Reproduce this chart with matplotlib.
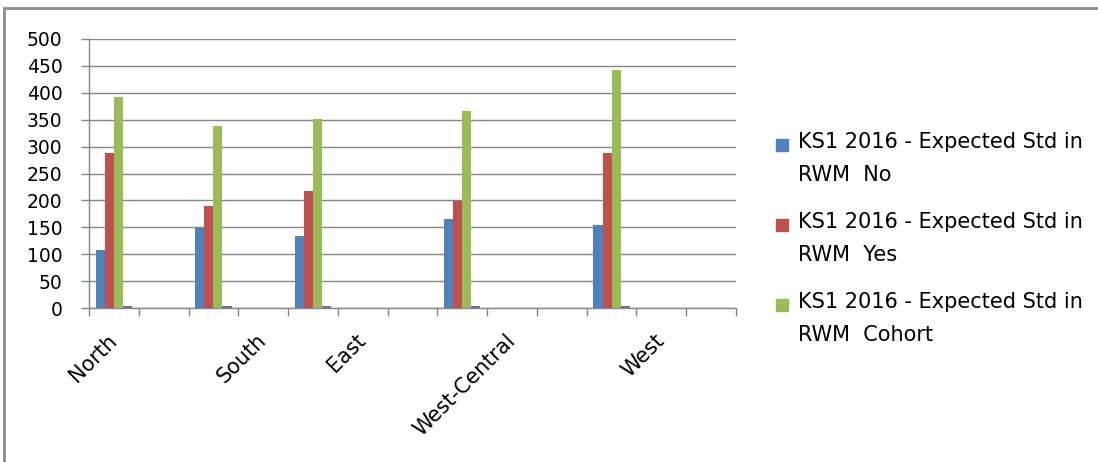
import numpy as np
import matplotlib.pyplot as plt
from matplotlib.patches import Rectangle

# category axis as laid out in the sheet (blank rows stay as empty slots)
axis_labels = ["North", "", "", "South", "", "East", "", "", "West-Central", "", "", "West", ""]

# KS1 2016 - Expected Std in RWM, one value per slot (None = empty row)
rwm_no     = [108, None, 148, None, 133, None, None, 166, None, None, 155, None, None]
rwm_yes    = [289, None, 190, None, 217, None, None, 199, None, None, 288, None, None]
rwm_cohort = [393, None, 338, None, 351, None, None, 367, None, None, 443, None, None]
rwm_other  = [3, None, 3, None, 3, None, None, 3, None, None, 3, None, None]

legend_labels = ["KS1 2016 - Expected Std in\nRWM  No",
                 "KS1 2016 - Expected Std in\nRWM  Yes",
                 "KS1 2016 - Expected Std in\nRWM  Cohort"]
colors = ["#4F81BD", "#C0504D", "#9BBB59", "#8064A2"]

plt.rcParams['font.family'] = ['DejaVu Sans']

W, H = 1098, 462
fig = plt.figure(figsize=(W / 100, H / 100), dpi=100)
ax = fig.add_axes([89 / W, 1 - 308 / H, (736 - 89) / W, (308 - 39) / H])

series = [rwm_no, rwm_yes, rwm_cohort, rwm_other]
x = np.arange(len(axis_labels))
bw = 1 / 5.5  # 4 bars + 150% gap
for i, s in enumerate(series):
    vals = np.array([np.nan if v is None else v for v in s], dtype=float)
    offs = -0.5 + 0.75 * bw + (i + 0.5) * bw
    ax.bar(x + offs, vals, width=bw, color=colors[i], linewidth=0, zorder=3)

ax.set_xlim(-0.5, len(axis_labels) - 0.5)
ax.set_ylim(0, 500)
ax.set_yticks(np.arange(0, 501, 50))
ax.grid(axis='y', color='#868686', linewidth=1, zorder=0)

ax.set_xticks(x)
ax.set_xticklabels(axis_labels, rotation=45, ha='right', va='center',
                   rotation_mode='anchor', fontsize=15)
ax.set_xticks(np.arange(-0.5, len(axis_labels)), minor=True)
ax.tick_params(axis='x', which='major', length=0, pad=21)
ax.tick_params(axis='x', which='minor', length=6, color='#868686', width=1)
ax.tick_params(axis='y', length=6, color='#868686', width=1, labelsize=13.5, pad=13)

for sp in ['top', 'right']:
    ax.spines[sp].set_visible(False)
for sp in ['left', 'bottom']:
    ax.spines[sp].set_color('#868686')
    ax.spines[sp].set_linewidth(1)

# legend drawn by hand so the swatch lines up with the first text line
for i, lab in enumerate(legend_labels):
    y0 = 148 + 80 * i
    fig.patches.append(Rectangle((776 / W, 1 - (y0 + 3) / H), 12 / W, 12 / H,
                                 transform=fig.transFigure, color=colors[i]))
    for j, line in enumerate(lab.split("\n")):
        fig.text(798 / W, 1 - (y0 + 33 * j) / H, line, fontsize=15,
                 va='baseline', ha='left')

# chart area frame
fig.patches.append(Rectangle((4 / W, -0.1), 1.2, 1 - 8 / H + 0.1,
                             transform=fig.transFigure, fill=False,
                             edgecolor='#8c8c8c', linewidth=2))

fig.savefig("out.png", dpi=100)
